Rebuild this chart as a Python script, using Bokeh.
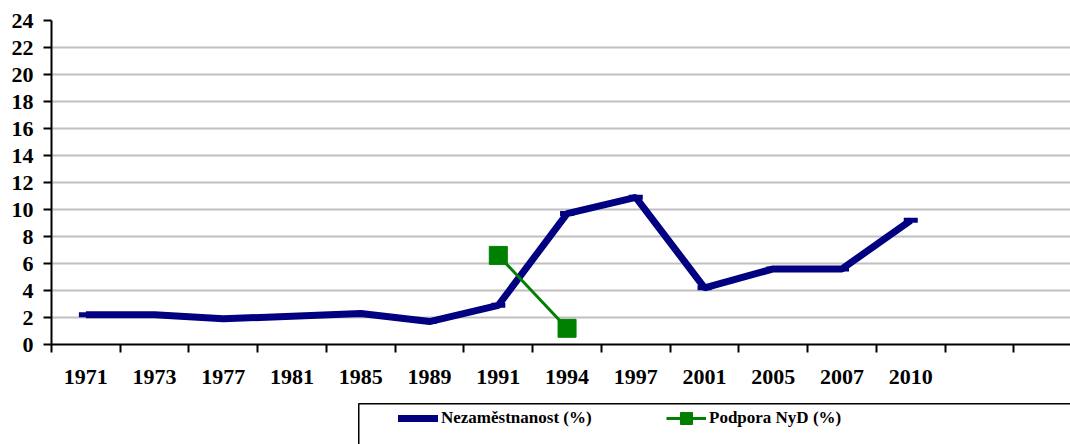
from bokeh.plotting import figure
from bokeh.models import Range1d, FixedTicker, Legend, LegendItem, Spacer
from bokeh.layouts import column, row
from bokeh.embed import file_html
from bokeh.resources import INLINE

years = ["1971", "1973", "1977", "1981", "1985", "1989", "1991",
         "1994", "1997", "2001", "2005", "2007", "2010"]
unemployment = [2.2, 2.2, 1.9, 2.1, 2.3, 1.7, 2.9, 9.7, 10.9, 4.2, 5.6, 5.6, 9.2]
nyd_years = ["1991", "1994"]
nyd_support = [6.6, 1.2]
y_ticks = list(range(0, 25, 2))
n_slots = 15

FONT = "Liberation Serif"
NAVY = "#000080"
GREEN = "#008000"

x_pos = [i + 0.5 for i in range(len(years))]
nyd_x = [years.index(y) + 0.5 for y in nyd_years]

p = figure(width=1070, height=403, output_backend="svg", toolbar_location=None,
           x_range=Range1d(0, 1019 / 68.74), y_range=Range1d(0, 24),
           min_border_left=51, min_border_right=0, min_border_top=20,
           min_border_bottom=59)
p.outline_line_color = None

xa = p.xaxis[0]
xa.ticker = FixedTicker(ticks=x_pos, minor_ticks=list(range(n_slots)))
xa.major_label_overrides = {x: y for x, y in zip(x_pos, years)}
xa.major_tick_line_color = None
xa.major_tick_out = 8
xa.major_tick_in = 0
xa.minor_tick_out = 8
xa.minor_tick_in = 0
xa.minor_tick_line_color = "black"
xa.minor_tick_line_width = 2
xa.axis_line_color = "black"
xa.axis_line_width = 2
xa.major_label_standoff = 17
xa.major_label_text_font = FONT
xa.major_label_text_font_style = "bold"
xa.major_label_text_font_size = "22px"
xa.major_label_text_color = "black"

ya = p.yaxis[0]
ya.ticker = FixedTicker(ticks=y_ticks)
ya.major_tick_out = 8
ya.major_tick_in = 0
ya.major_tick_line_width = 2
ya.major_tick_line_color = "black"
ya.minor_tick_line_color = None
ya.axis_line_color = "black"
ya.axis_line_width = 2
ya.major_label_standoff = 10
ya.major_label_text_font = FONT
ya.major_label_text_font_style = "bold"
ya.major_label_text_font_size = "22px"
ya.major_label_text_color = "black"

p.xgrid.grid_line_color = None
p.ygrid.ticker = FixedTicker(ticks=y_ticks)
p.ygrid.grid_line_color = "#c0c0c0"
p.ygrid.grid_line_width = 2

p.line(x_pos, unemployment, line_color=NAVY, line_width=7)
p.scatter(x_pos, unemployment, marker="dash", size=14, line_width=5,
          line_color=NAVY)
p.line(nyd_x, nyd_support, line_color=GREEN, line_width=3)
p.scatter(nyd_x, nyd_support, marker="square", size=18,
          fill_color=GREEN, line_color=GREEN)

# legend panel (box with top/left border, cropped like the reference)
lg = figure(width=712, height=41, output_backend="svg", toolbar_location=None,
            x_range=Range1d(0, 1), y_range=Range1d(0, 1),
            x_axis_location="above", min_border=0)
lg.outline_line_color = None
lg.grid.grid_line_color = None
for ax in (lg.xaxis[0], lg.yaxis[0]):
    ax.major_tick_line_color = None
    ax.minor_tick_line_color = None
    ax.major_tick_out = 0
    ax.major_tick_in = 0
    ax.minor_tick_out = 0
    ax.major_label_standoff = 0
    ax.major_label_text_font_size = "0px"
    ax.axis_line_color = "black"
    ax.axis_line_width = 2
    ax.ticker = FixedTicker(ticks=[])

# off-range proxies: only their legend glyphs are shown
px, py = [-5, -4], [-5, -4]
l1 = lg.line(px, py, line_color=NAVY, line_width=7, line_cap="round")
l2 = lg.line(px, py, line_color=GREEN, line_width=3)
l3 = lg.scatter(px, py, marker="square", size=18, fill_color=GREEN,
                line_color=GREEN)

legend = Legend(items=[LegendItem(label="Nezaměstnanost (%)", renderers=[l1]),
                       LegendItem(label="Podpora NyD (%)", renderers=[l2, l3])],
                location=(40, 11), orientation="horizontal",
                border_line_color=None, background_fill_alpha=0,
                padding=0, margin=0, spacing=0, glyph_width=40, glyph_height=30,
                label_standoff=3, label_width=225, label_height=30,
                label_text_font=FONT, label_text_font_style="bold",
                label_text_font_size="17px", label_text_color="black")
lg.add_layout(legend, "center")

layout = column(p, row(Spacer(width=358, height=41), lg, spacing=0), spacing=0)

open("out.html", "w").write(file_html(layout, INLINE))
